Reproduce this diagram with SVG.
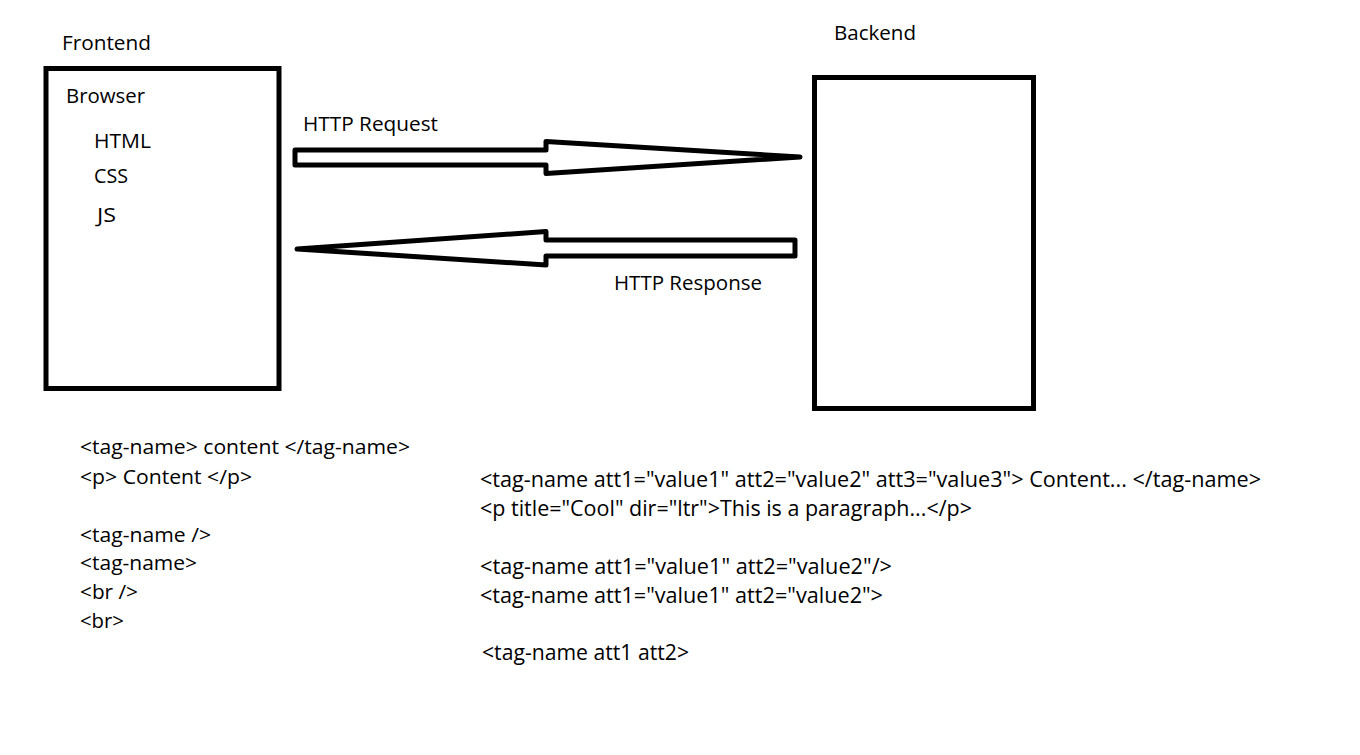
<svg xmlns="http://www.w3.org/2000/svg" width="1360" height="755" viewBox="0 0 1360 755">
<style>
text{font-family:"Open Sans","Noto Sans","DejaVu Sans",sans-serif;font-size:20.5px;fill:#000}
.box{fill:#fff;stroke:#000;stroke-width:5}
.arrow{fill:#fff;stroke:#000;stroke-width:5;stroke-linejoin:round}
.code2{font-size:21.5px}
</style>
<rect width="1360" height="755" fill="#fff"/>
<g id="frontend">
<text x="62" y="50" textLength="89" lengthAdjust="spacingAndGlyphs">Frontend</text>
<rect class="box" x="46" y="68.5" width="233" height="320"/>
<text x="66" y="103" textLength="79" lengthAdjust="spacingAndGlyphs">Browser</text>
<text x="94" y="148" textLength="57" lengthAdjust="spacingAndGlyphs">HTML</text>
<text x="94" y="183" textLength="34" lengthAdjust="spacingAndGlyphs">CSS</text>
<text x="97" y="222" textLength="19" lengthAdjust="spacingAndGlyphs">JS</text>
</g>
<g id="backend">
<text x="834" y="40" textLength="82" lengthAdjust="spacingAndGlyphs">Backend</text>
<rect class="box" x="814.5" y="77.5" width="219" height="331"/>
</g>
<g id="connectors">
<polygon id="request" class="arrow" points="295,150 546,150 546,141.5 800,157 546,173.5 546,165 295,165"/>
<text x="303" y="131" textLength="135" lengthAdjust="spacingAndGlyphs">HTTP Request</text>
<polygon id="response" class="arrow" points="297,249 546,231.5 546,240 795,240 795,256 546,256 546,265"/>
<text x="614" y="290" textLength="148" lengthAdjust="spacingAndGlyphs">HTTP Response</text>
</g>
<g id="syntax-left">
<text x="80" y="454" textLength="330" lengthAdjust="spacingAndGlyphs">&lt;tag-name&gt; content &lt;/tag-name&gt;</text>
<text x="80" y="484" textLength="172" lengthAdjust="spacingAndGlyphs">&lt;p&gt; Content &lt;/p&gt;</text>
<text x="80" y="542" textLength="131" lengthAdjust="spacingAndGlyphs">&lt;tag-name /&gt;</text>
<text x="80" y="570" textLength="117" lengthAdjust="spacingAndGlyphs">&lt;tag-name&gt;</text>
<text x="80" y="599" textLength="58" lengthAdjust="spacingAndGlyphs">&lt;br /&gt;</text>
<text x="80" y="628" textLength="44" lengthAdjust="spacingAndGlyphs">&lt;br&gt;</text>
</g>
<g id="syntax-right">
<text class="code2" x="480" y="487" textLength="781" lengthAdjust="spacingAndGlyphs">&lt;tag-name att1="value1" att2="value2" att3="value3"&gt; Content... &lt;/tag-name&gt;</text>
<text class="code2" x="480" y="516" textLength="492" lengthAdjust="spacingAndGlyphs">&lt;p title="Cool" dir="ltr"&gt;This is a paragraph...&lt;/p&gt;</text>
<text class="code2" x="480" y="574" textLength="412" lengthAdjust="spacingAndGlyphs">&lt;tag-name att1="value1" att2="value2"/&gt;</text>
<text class="code2" x="480" y="603" textLength="403" lengthAdjust="spacingAndGlyphs">&lt;tag-name att1="value1" att2="value2"&gt;</text>
<text class="code2" x="482" y="660" textLength="207" lengthAdjust="spacingAndGlyphs">&lt;tag-name att1 att2&gt;</text>
</g>
</svg>
